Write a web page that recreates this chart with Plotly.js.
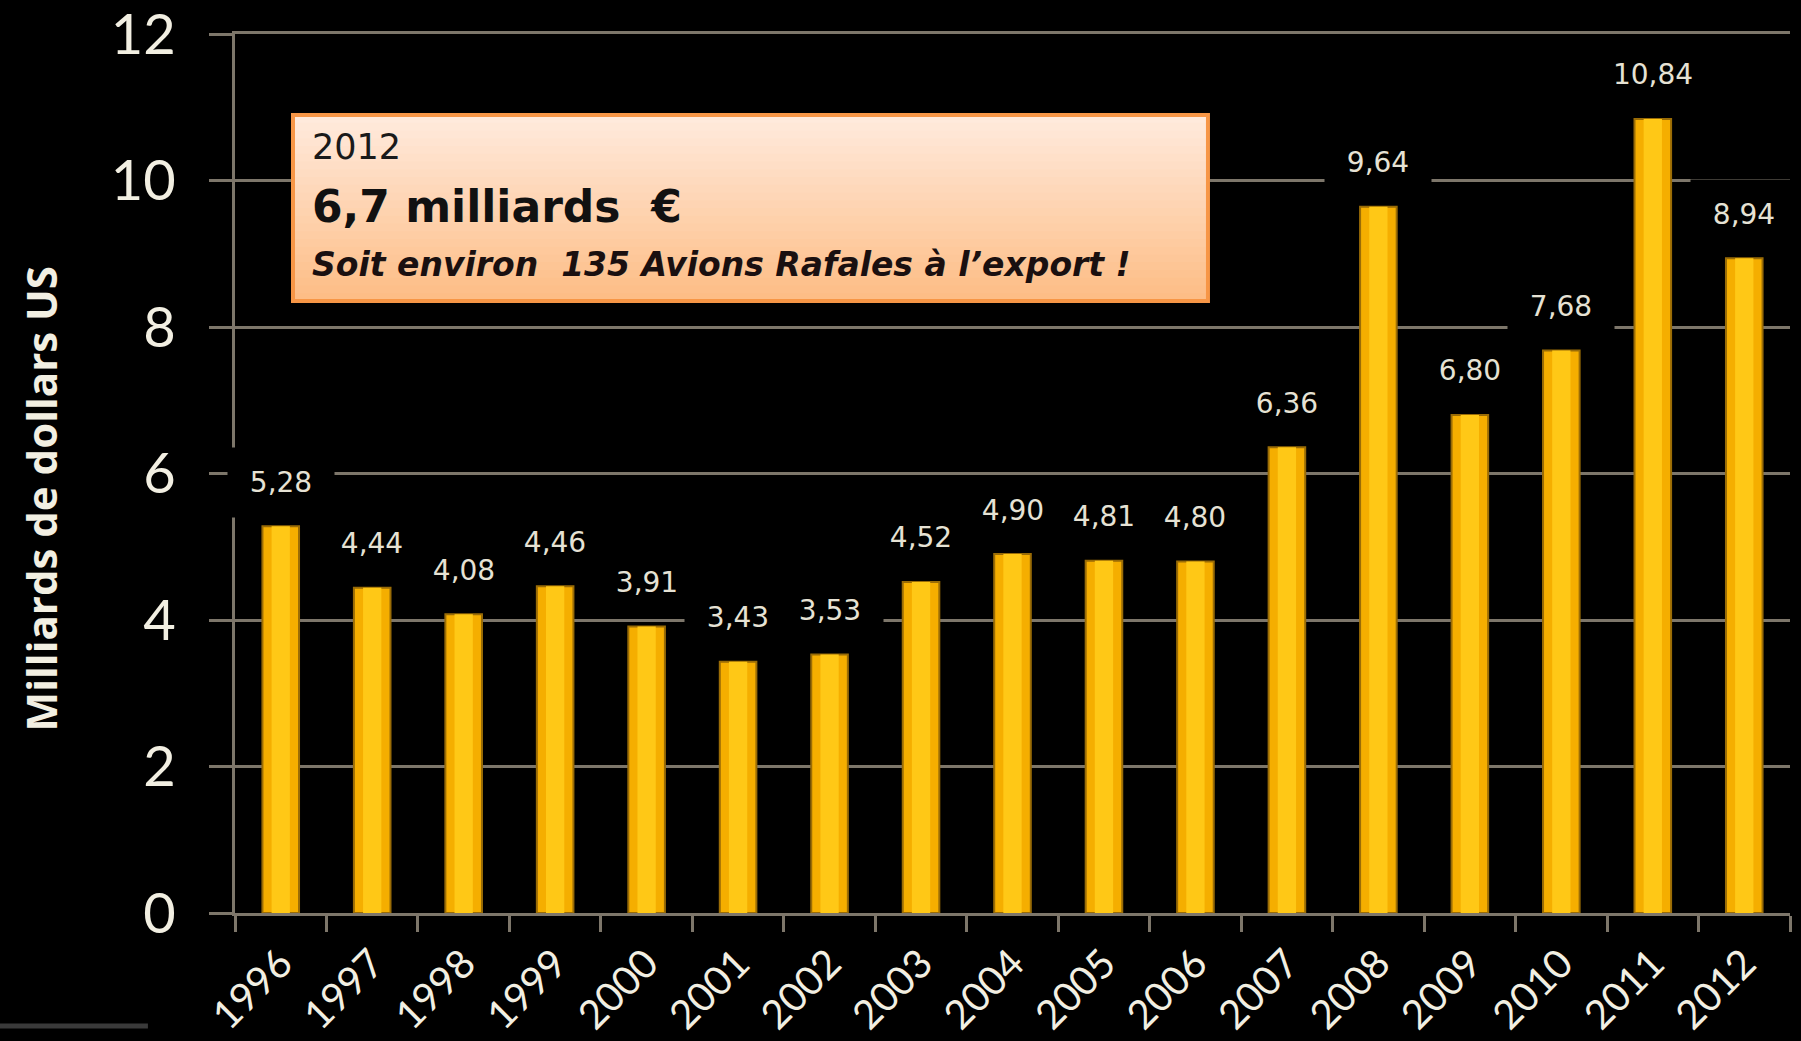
<!DOCTYPE html>
<html>
<head>
<meta charset="utf-8">
<script src="https://cdn.plot.ly/plotly-3.0.1.min.js"></script>
<style>
    html, body { margin: 0; padding: 0; background: #000; }
    #graph { width: 1801px; height: 1041px; }
</style>
</head>
<body>
<div id="graph"></div>
<script>
// exports d'armement, milliards de dollars US
const years = ['1996', '1997', '1998', '1999', '2000', '2001', '2002', '2003', '2004',
    '2005', '2006', '2007', '2008', '2009', '2010', '2011', '2012'];
const exportValues = [5.28, 4.44, 4.08, 4.46, 3.91, 3.43, 3.53, 4.52, 4.90,
    4.81, 4.80, 6.36, 9.64, 6.80, 7.68, 10.84, 8.94];
const yTicks = [0, 2, 4, 6, 8, 10, 12];

const yTitle = 'Milliards de dollars US';
const boxLines = ['2012', '6,7 milliards  €', 'Soit environ  135 Avions Rafales à l’export !'];

const textColor = '#f2efe2';
const gridColor = '#7d766a';
const axisFont = 'Lato, "Open Sans", sans-serif';
const wideFont = '"DejaVu Sans", "Open Sans", sans-serif';

function formatValue(v) {
    return v.toFixed(2).replace('.', ',');
}

function hexToRgb(hex) {
    const n = parseInt(hex.slice(1), 16);
    return [(n >> 16) & 255, (n >> 8) & 255, n & 255];
}

function mixColor(a, b, t) {
    const ca = hexToRgb(a);
    const cb = hexToRgb(b);
    const c = ca.map((v, i) => Math.round(v + (cb[i] - v) * t));
    return 'rgb(' + c.join(',') + ')';
}

function drawChart() {
    const outerBars = {
        x: years,
        y: exportValues,
        type: 'bar',
        width: 0.4,
        marker: {
            color: '#f5ae00',
            line: {color: '#9a6c06', width: 2}
        },
        hoverinfo: 'skip',
        showlegend: false
    };

    const innerBars = {
        x: years,
        y: exportValues,
        type: 'bar',
        width: 0.2,
        marker: {color: '#ffc816'},
        hoverinfo: 'skip',
        showlegend: false
    };

    // x par index : sinon '1996' est lu comme un nombre sur l'axe catégoriel
    // fond noir qui masque le quadrillage derrière l'étiquette
    const valueLabels = years.map((year, i) => ({
        x: i,
        y: exportValues[i],
        xref: 'x',
        yref: 'y',
        text: formatValue(exportValues[i]),
        showarrow: false,
        yanchor: 'middle',
        yshift: 44,
        width: 86,
        height: 49,
        bgcolor: '#000000',
        borderpad: 10,
        font: {family: wideFont, size: 28, color: '#e6e2d4'}
    }));

    // encadré 2012 : dégradé en bandes horizontales
    const boxX0 = 0.0373, boxX1 = 0.6257;
    const boxY0 = 0.6962, boxY1 = 0.9078;
    const stripCount = 24;
    const shapes = [];
    for (let i = 0; i < stripCount; i++) {
        const t = i / (stripCount - 1);
        shapes.push({
            type: 'rect',
            xref: 'paper', yref: 'paper',
            x0: boxX0, x1: boxX1,
            y0: Math.max(boxY0, boxY1 - (boxY1 - boxY0) * (i + 1.6) / stripCount),
            y1: boxY1 - (boxY1 - boxY0) * i / stripCount,
            fillcolor: mixColor('#ffeadc', '#fdbd86', t),
            line: {width: 0},
            layer: 'above'
        });
    }
    shapes.push({
        type: 'rect',
        xref: 'paper', yref: 'paper',
        x0: boxX0, x1: boxX1, y0: boxY0, y1: boxY1,
        line: {color: '#f79646', width: 4},
        fillcolor: 'rgba(0,0,0,0)',
        layer: 'above'
    });
    shapes.push({
        type: 'line',
        xref: 'paper', yref: 'paper',
        x0: -0.152, x1: -0.056, y0: -0.1286, y1: -0.1286,
        line: {color: '#3a3a3a', width: 5}
    });

    const boxText = [
        {text: boxLines[0], y: 0.8714, font: {family: wideFont, size: 35, color: '#1a1a1a'}},
        {text: '<b>' + boxLines[1] + '</b>', y: 0.8032, font: {family: wideFont, size: 44, color: '#111111'}},
        {text: '<i><b>' + boxLines[2] + '</b></i>', y: 0.7383, font: {family: wideFont, size: 33, color: '#1a1010'}}
    ].map(line => ({
        xref: 'paper', yref: 'paper',
        x: 0.048, y: line.y,
        xanchor: 'left', yanchor: 'middle',
        showarrow: false,
        text: line.text,
        font: line.font
    }));

    // titre de l'axe y placé à la main (un peu sous le milieu, comme l'original)
    const yTitleNote = {
        xref: 'paper', yref: 'paper',
        x: -0.1248, y: 0.4716,
        xanchor: 'center', yanchor: 'middle',
        textangle: -90,
        showarrow: false,
        text: '<b>' + yTitle + '</b>',
        font: {family: '"Open Sans", sans-serif', size: 42, color: textColor}
    };

    const layout = {
        width: 1801,
        height: 1041,
        paper_bgcolor: '#000000',
        plot_bgcolor: '#000000',
        barmode: 'overlay',
        margin: {l: 235, r: 11, t: 34, b: 128},
        xaxis: {
            type: 'category',
            range: [-0.5, years.length - 0.5],
            showline: true,
            mirror: true,
            linecolor: gridColor,
            linewidth: 3,
            ticks: 'outside',
            tickson: 'boundaries',
            ticklen: 16,
            tickwidth: 3,
            tickcolor: gridColor,
            tickangle: -45,
            ticklabelstandoff: 8,
            tickfont: {family: axisFont, size: 40, color: textColor},
            showgrid: false,
            fixedrange: true
        },
        yaxis: {
            range: [0, 12],
            tickvals: yTicks,
            ticktext: yTicks.map(String),
            showline: true,
            linecolor: gridColor,
            linewidth: 3,
            ticks: 'outside',
            ticklen: 23,
            tickwidth: 3,
            tickcolor: gridColor,
            ticklabelstandoff: 22,
            ticklabeloverflow: 'allow',
            tickfont: {family: axisFont, size: 56, color: textColor},
            showgrid: true,
            gridcolor: gridColor,
            gridwidth: 3,
            zeroline: false,
            fixedrange: true
        },
        annotations: valueLabels.concat(boxText, [yTitleNote]),
        shapes: shapes,
        showlegend: false
    };

    const config = {
        displayModeBar: false,
        staticPlot: true
    };

    Plotly.newPlot('graph', [outerBars, innerBars], layout, config);
}

drawChart();
</script>
</body>
</html>
